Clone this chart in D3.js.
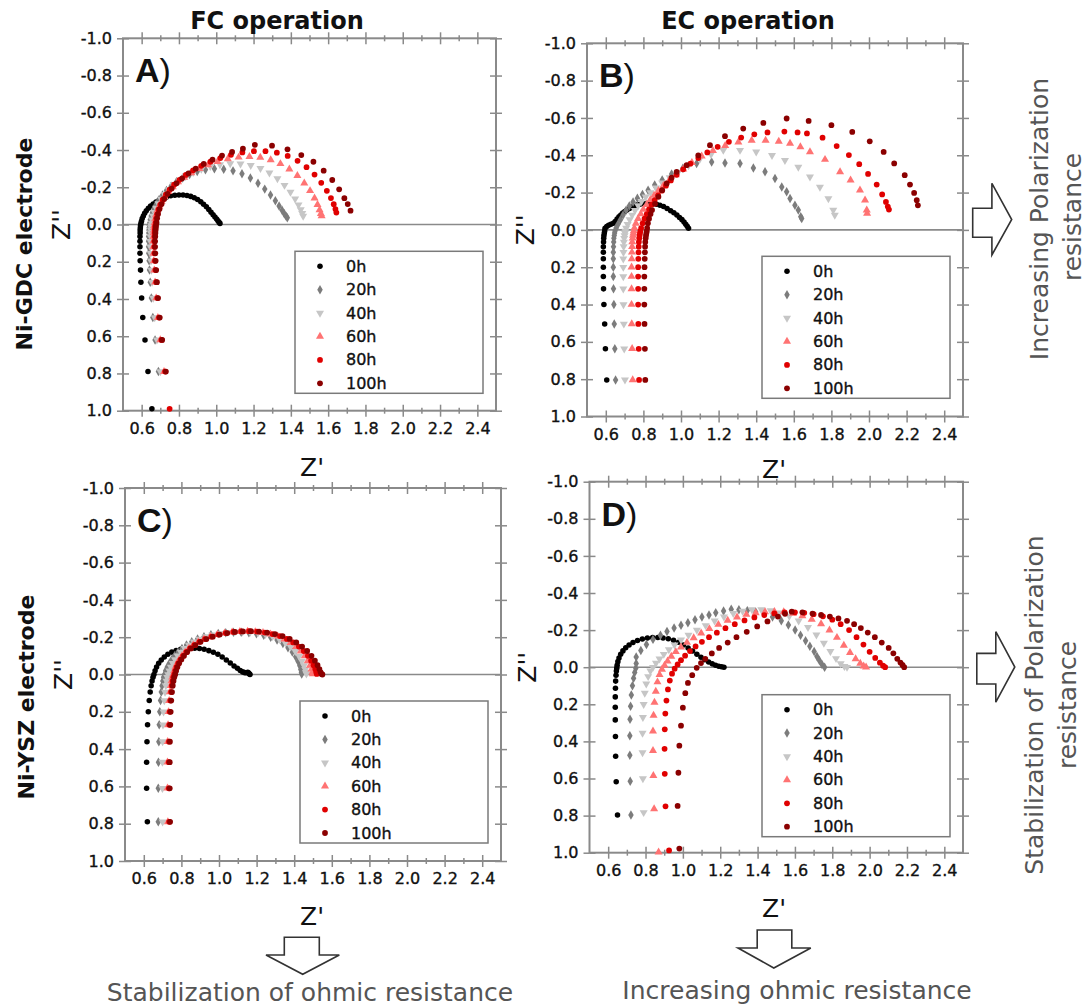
<!DOCTYPE html>
<html><head><meta charset="utf-8">
<script src="https://cdn.jsdelivr.net/npm/d3@7"></script>
<style>body{margin:0;background:#fff}svg{display:block}</style>
</head><body>
<svg id="chart" width="1087" height="1007"></svg>
<script>
// ---------------- DATA ----------------
const seriesLabels = ["0h","20h","40h","60h","80h","100h"];
const xTickValues = [0.6,0.8,1.0,1.2,1.4,1.6,1.8,2.0,2.2,2.4];
const xMinorValues = [0.7,0.9,1.1,1.3,1.5,1.7,1.9,2.1,2.3];
const yTickValues = [-1.0,-0.8,-0.6,-0.4,-0.2,0.0,0.2,0.4,0.6,0.8,1.0];
const columnTitles = ["FC operation","EC operation"];
const rowTitles = ["Ni-GDC electrode","Ni-YSZ electrode"];
const panelLetters = ["A","B","C","D"];

// Panel A : Ni-GDC, FC operation  [Z', Z'']
const A_0h = [[0.655,0.99],[0.634,0.79],[0.618,0.62],[0.606,0.5],[0.6,0.395],[0.596,0.31],[0.594,0.245],[0.592,0.195],[0.591,0.155],[0.591,0.12],[0.591,0.09],[0.591,0.065],[0.592,0.045],[0.592,0.03],[0.593,0.017],[0.594,0.006],
 [0.596,-0.005],[0.599,-0.018],[0.603,-0.032],[0.609,-0.046],[0.616,-0.06],[0.625,-0.074],[0.636,-0.087],[0.648,-0.099],[0.662,-0.11],[0.677,-0.121],[0.694,-0.131],[0.713,-0.14],[0.734,-0.148],[0.756,-0.154],[0.778,-0.157],[0.8,-0.158],[0.822,-0.158],[0.843,-0.156],[0.863,-0.151],[0.882,-0.144],[0.9,-0.134],[0.917,-0.122],[0.932,-0.109],[0.947,-0.095],[0.96,-0.08],[0.972,-0.066],[0.983,-0.052],[0.993,-0.04],[1.002,-0.029],[1.009,-0.02],[1.015,-0.012],[1.02,-0.006]];
const A_20h = [[0.69,0.79],[0.672,0.62],[0.66,0.5],[0.652,0.395],[0.646,0.31],[0.642,0.245],[0.64,0.195],[0.638,0.155],[0.637,0.12],[0.637,0.09],[0.637,0.065],[0.638,0.045],[0.639,0.03],[0.64,0.017],[0.641,0.006],
 [0.643,-0.008],[0.646,-0.025],[0.651,-0.045],[0.658,-0.065],[0.667,-0.087],[0.679,-0.11],[0.694,-0.134],[0.712,-0.158],[0.733,-0.182],[0.758,-0.206],[0.787,-0.229],[0.82,-0.25],[0.857,-0.269],[0.898,-0.284],[0.942,-0.294],[0.99,-0.299],[1.04,-0.297],[1.09,-0.288],[1.138,-0.272],[1.183,-0.25],[1.224,-0.222],[1.26,-0.19],[1.291,-0.158],[1.317,-0.127],[1.337,-0.099],[1.353,-0.076],[1.365,-0.058],[1.374,-0.045],[1.381,-0.036]];
const A_40h = [[0.7,0.79],[0.682,0.62],[0.67,0.5],[0.662,0.395],[0.656,0.31],[0.652,0.245],[0.65,0.195],[0.648,0.155],[0.647,0.12],[0.647,0.09],[0.648,0.065],[0.649,0.045],[0.65,0.03],[0.651,0.017],[0.652,0.006],
 [0.654,-0.008],[0.657,-0.025],[0.662,-0.045],[0.669,-0.066],[0.678,-0.088],[0.69,-0.112],[0.705,-0.137],[0.723,-0.162],[0.745,-0.187],[0.771,-0.212],[0.801,-0.236],[0.836,-0.259],[0.876,-0.28],[0.92,-0.298],[0.968,-0.312],[1.02,-0.322],[1.075,-0.327],[1.13,-0.326],[1.185,-0.318],[1.237,-0.302],[1.285,-0.278],[1.328,-0.247],[1.366,-0.211],[1.398,-0.174],[1.423,-0.138],[1.441,-0.106],[1.453,-0.08],[1.461,-0.06],[1.466,-0.045]];
const A_60h = [[0.72,0.79],[0.7,0.62],[0.687,0.5],[0.678,0.395],[0.672,0.31],[0.668,0.245],[0.665,0.195],[0.663,0.155],[0.662,0.12],[0.662,0.09],[0.663,0.065],[0.664,0.045],[0.665,0.03],[0.666,0.017],[0.667,0.006],
 [0.669,-0.01],[0.672,-0.03],[0.677,-0.052],[0.684,-0.075],[0.694,-0.099],[0.707,-0.124],[0.723,-0.15],[0.743,-0.176],[0.767,-0.202],[0.795,-0.228],[0.828,-0.253],[0.866,-0.277],[0.909,-0.3],[0.956,-0.32],[1.007,-0.338],[1.062,-0.352],[1.12,-0.361],[1.178,-0.364],[1.236,-0.36],[1.292,-0.347],[1.344,-0.326],[1.392,-0.297],[1.435,-0.262],[1.472,-0.222],[1.503,-0.181],[1.527,-0.141],[1.543,-0.106],[1.554,-0.078],[1.561,-0.058],[1.565,-0.046]];
const A_80h = [[0.75,0.99],[0.726,0.79],[0.706,0.62],[0.693,0.5],[0.684,0.395],[0.678,0.31],[0.674,0.245],[0.671,0.195],[0.669,0.155],[0.668,0.12],[0.668,0.09],[0.669,0.065],[0.67,0.045],[0.671,0.03],[0.672,0.017],[0.673,0.006],
 [0.675,-0.01],[0.678,-0.032],[0.683,-0.055],[0.69,-0.08],[0.7,-0.106],[0.713,-0.133],[0.73,-0.16],[0.75,-0.187],[0.774,-0.214],[0.803,-0.24],[0.837,-0.266],[0.876,-0.291],[0.92,-0.315],[0.969,-0.337],[1.022,-0.357],[1.079,-0.374],[1.14,-0.387],[1.202,-0.394],[1.264,-0.394],[1.325,-0.386],[1.383,-0.368],[1.436,-0.342],[1.484,-0.308],[1.527,-0.268],[1.563,-0.224],[1.593,-0.181],[1.615,-0.142],[1.63,-0.109],[1.639,-0.083],[1.644,-0.064]];
const A_100h = [[0.73,0.79],[0.71,0.62],[0.697,0.5],[0.688,0.395],[0.682,0.31],[0.678,0.245],[0.675,0.195],[0.673,0.155],[0.672,0.12],[0.672,0.09],[0.673,0.065],[0.674,0.045],[0.675,0.03],[0.676,0.017],[0.677,0.006],
 [0.68,-0.01],[0.683,-0.033],[0.688,-0.057],[0.696,-0.083],[0.707,-0.11],[0.721,-0.137],[0.739,-0.165],[0.761,-0.193],[0.787,-0.221],[0.817,-0.248],[0.851,-0.275],[0.89,-0.3],[0.933,-0.325],[0.98,-0.348],[1.031,-0.37],[1.085,-0.39],[1.143,-0.407],[1.207,-0.428],[1.299,-0.423],[1.382,-0.404],[1.456,-0.373],[1.521,-0.337],[1.576,-0.289],[1.622,-0.239],[1.659,-0.189],[1.687,-0.141],[1.705,-0.11],[1.72,-0.074]];

// Panel B : Ni-GDC, EC operation
const B_0h = [[0.605,0.804],[0.598,0.637],[0.594,0.504],[0.59,0.4],[0.588,0.316],[0.587,0.25],[0.587,0.2],[0.587,0.155],[0.587,0.12],[0.587,0.09],[0.588,0.065],[0.589,0.045],[0.59,0.03],[0.592,0.017],[0.594,0.006],
 [0.596,-0.009],[0.605,-0.018],[0.615,-0.025],[0.627,-0.03],[0.64,-0.036],[0.65,-0.045],[0.66,-0.058],[0.67,-0.07],[0.68,-0.08],[0.69,-0.09],[0.701,-0.099],[0.712,-0.107],[0.726,-0.115],[0.74,-0.122],[0.752,-0.128],[0.765,-0.134],[0.782,-0.138],[0.8,-0.14],[0.818,-0.142],[0.836,-0.143],[0.853,-0.141],[0.87,-0.138],[0.888,-0.132],[0.907,-0.125],[0.926,-0.115],[0.945,-0.103],[0.962,-0.092],[0.978,-0.08],[0.992,-0.067],[1.005,-0.055],[1.016,-0.042],[1.025,-0.03],[1.033,-0.019],[1.04,-0.009]];
const B_20h = [[0.652,0.804],[0.648,0.637],[0.645,0.504],[0.643,0.4],[0.641,0.316],[0.64,0.25],[0.64,0.2],[0.64,0.155],[0.64,0.12],[0.641,0.09],[0.642,0.065],[0.643,0.045],[0.645,0.03],[0.647,0.017],[0.649,0.006],
 [0.655,-0.01],[0.665,-0.03],[0.678,-0.055],[0.692,-0.08],[0.708,-0.105],[0.725,-0.128],[0.745,-0.15],[0.768,-0.17],[0.795,-0.19],[0.825,-0.213],[0.86,-0.24],[0.9,-0.268],[0.95,-0.3],[1.01,-0.33],[1.083,-0.356],[1.163,-0.364],[1.234,-0.359],[1.314,-0.356],[1.385,-0.332],[1.447,-0.311],[1.5,-0.275],[1.536,-0.23],[1.562,-0.204],[1.58,-0.168],[1.606,-0.132],[1.624,-0.106],[1.637,-0.07],[1.642,-0.061]];
const B_40h = [[0.702,0.804],[0.698,0.637],[0.696,0.504],[0.694,0.4],[0.693,0.316],[0.693,0.25],[0.693,0.2],[0.693,0.155],[0.694,0.12],[0.695,0.09],[0.696,0.065],[0.698,0.045],[0.7,0.03],[0.702,0.017],[0.704,0.006],
 [0.708,-0.01],[0.716,-0.03],[0.727,-0.055],[0.74,-0.08],[0.755,-0.105],[0.772,-0.13],[0.79,-0.153],[0.812,-0.177],[0.838,-0.2],[0.868,-0.225],[0.9,-0.252],[0.94,-0.28],[0.985,-0.31],[1.04,-0.345],[1.1,-0.38],[1.16,-0.405],[1.225,-0.427],[1.314,-0.427],[1.4,-0.418],[1.484,-0.4],[1.553,-0.373],[1.624,-0.337],[1.686,-0.284],[1.739,-0.23],[1.784,-0.168],[1.81,-0.106],[1.818,-0.079]];
const B_60h = [[0.743,0.804],[0.74,0.637],[0.738,0.504],[0.737,0.4],[0.737,0.316],[0.737,0.25],[0.737,0.2],[0.738,0.155],[0.739,0.12],[0.74,0.09],[0.741,0.065],[0.743,0.045],[0.745,0.03],[0.747,0.017],[0.749,0.006],
 [0.752,-0.01],[0.76,-0.035],[0.772,-0.06],[0.786,-0.085],[0.8,-0.11],[0.817,-0.135],[0.836,-0.16],[0.857,-0.185],[0.88,-0.21],[0.906,-0.237],[0.937,-0.265],[0.972,-0.295],[1.012,-0.325],[1.058,-0.36],[1.11,-0.395],[1.17,-0.425],[1.235,-0.452],[1.305,-0.47],[1.376,-0.48],[1.45,-0.48],[1.52,-0.474],[1.58,-0.463],[1.635,-0.445],[1.686,-0.418],[1.766,-0.377],[1.846,-0.311],[1.902,-0.266],[1.952,-0.213],[1.979,-0.159],[1.988,-0.106],[1.99,-0.088]];
const B_80h = [[0.777,0.804],[0.775,0.637],[0.773,0.504],[0.772,0.4],[0.772,0.316],[0.772,0.25],[0.772,0.2],[0.773,0.155],[0.774,0.12],[0.775,0.09],[0.776,0.065],[0.778,0.045],[0.78,0.03],[0.782,0.017],[0.784,0.006],
 [0.788,-0.01],[0.796,-0.035],[0.806,-0.06],[0.818,-0.085],[0.83,-0.11],[0.844,-0.135],[0.86,-0.16],[0.878,-0.185],[0.898,-0.21],[0.92,-0.237],[0.946,-0.265],[0.977,-0.295],[1.012,-0.325],[1.05,-0.355],[1.092,-0.385],[1.14,-0.415],[1.195,-0.445],[1.255,-0.472],[1.32,-0.495],[1.39,-0.512],[1.46,-0.522],[1.55,-0.527],[1.62,-0.522],[1.67,-0.517],[1.753,-0.494],[1.828,-0.449],[1.893,-0.401],[1.948,-0.352],[1.995,-0.3],[2.041,-0.243],[2.07,-0.19],[2.09,-0.15],[2.1,-0.125],[2.106,-0.109]];
const B_100h = [[0.81,0.804],[0.808,0.637],[0.806,0.504],[0.805,0.4],[0.805,0.316],[0.805,0.25],[0.806,0.2],[0.807,0.155],[0.808,0.12],[0.809,0.09],[0.81,0.065],[0.812,0.045],[0.814,0.03],[0.816,0.017],[0.818,0.006],
 [0.82,-0.01],[0.824,-0.035],[0.83,-0.06],[0.838,-0.085],[0.846,-0.106],[0.862,-0.14],[0.88,-0.177],[0.9,-0.213],[0.924,-0.249],[0.95,-0.28],[0.977,-0.311],[1.03,-0.347],[1.092,-0.4],[1.154,-0.454],[1.234,-0.502],[1.331,-0.543],[1.438,-0.573],[1.562,-0.597],[1.679,-0.584],[1.8,-0.561],[1.911,-0.525],[2.004,-0.475],[2.078,-0.418],[2.134,-0.356],[2.19,-0.293],[2.218,-0.243],[2.24,-0.198],[2.254,-0.159],[2.26,-0.132]];

// Panel C : Ni-YSZ, FC operation
const C_0h = [[0.619,0.79],[0.615,0.61],[0.615,0.47],[0.617,0.36],[0.62,0.27],[0.624,0.2],[0.629,0.14],[0.634,0.094],[0.639,0.06],[0.644,0.035],[0.649,0.015],
 [0.654,0.0],[0.66,-0.02],[0.668,-0.04],[0.679,-0.06],[0.693,-0.078],[0.709,-0.094],[0.728,-0.108],[0.749,-0.12],[0.772,-0.129],[0.796,-0.135],[0.821,-0.139],[0.846,-0.141],[0.871,-0.141],[0.896,-0.139],[0.921,-0.135],[0.946,-0.128],[0.97,-0.119],[0.994,-0.108],[1.017,-0.094],[1.039,-0.078],[1.06,-0.062],[1.08,-0.046],[1.098,-0.033],[1.113,-0.022],[1.126,-0.014],[1.137,-0.01],[1.146,-0.009],[1.153,-0.012],[1.158,-0.008],[1.162,-0.003],[1.165,0.0]];
const C_20h = [[0.677,0.79],[0.677,0.61],[0.678,0.47],[0.68,0.36],[0.682,0.27],[0.685,0.2],[0.689,0.14],[0.693,0.094],[0.697,0.06],[0.701,0.035],[0.705,0.015],
 [0.71,0.0],[0.716,-0.02],[0.725,-0.04],[0.736,-0.06],[0.749,-0.08],[0.764,-0.1],[0.782,-0.12],[0.803,-0.14],[0.827,-0.158],[0.855,-0.175],[0.886,-0.19],[0.92,-0.203],[0.957,-0.213],[0.996,-0.22],[1.036,-0.224],[1.077,-0.226],[1.118,-0.226],[1.159,-0.224],[1.199,-0.219],[1.238,-0.211],[1.275,-0.2],[1.309,-0.185],[1.34,-0.166],[1.367,-0.144],[1.39,-0.12],[1.408,-0.095],[1.421,-0.07],[1.43,-0.047],[1.435,-0.027],[1.438,-0.012],[1.44,-0.003]];
const C_40h = [[0.7,0.79],[0.699,0.61],[0.699,0.47],[0.7,0.36],[0.702,0.27],[0.705,0.2],[0.709,0.14],[0.713,0.094],[0.717,0.06],[0.721,0.035],[0.725,0.015],
 [0.73,0.0],[0.736,-0.02],[0.744,-0.04],[0.754,-0.06],[0.766,-0.08],[0.78,-0.1],[0.797,-0.12],[0.817,-0.14],[0.84,-0.158],[0.866,-0.175],[0.896,-0.19],[0.929,-0.203],[0.965,-0.213],[1.003,-0.221],[1.043,-0.226],[1.084,-0.228],[1.125,-0.229],[1.166,-0.227],[1.207,-0.223],[1.247,-0.215],[1.285,-0.204],[1.321,-0.189],[1.353,-0.17],[1.381,-0.148],[1.406,-0.124],[1.426,-0.098],[1.441,-0.072],[1.452,-0.048],[1.459,-0.028],[1.463,-0.012],[1.465,-0.003]];
const C_60h = [[0.728,0.79],[0.726,0.61],[0.726,0.47],[0.727,0.36],[0.729,0.27],[0.732,0.2],[0.735,0.14],[0.739,0.094],[0.743,0.06],[0.747,0.035],[0.751,0.015],
 [0.756,0.0],[0.761,-0.02],[0.768,-0.04],[0.777,-0.06],[0.789,-0.08],[0.803,-0.1],[0.82,-0.12],[0.84,-0.14],[0.863,-0.158],[0.89,-0.175],[0.92,-0.19],[0.954,-0.203],[0.991,-0.214],[1.03,-0.222],[1.07,-0.227],[1.111,-0.23],[1.152,-0.231],[1.193,-0.229],[1.234,-0.224],[1.274,-0.216],[1.312,-0.205],[1.348,-0.19],[1.381,-0.171],[1.41,-0.149],[1.435,-0.125],[1.456,-0.099],[1.472,-0.073],[1.484,-0.049],[1.492,-0.028],[1.497,-0.012],[1.499,-0.003]];
const C_80h = [[0.735,0.79],[0.733,0.61],[0.733,0.47],[0.734,0.36],[0.736,0.27],[0.738,0.2],[0.741,0.14],[0.745,0.094],[0.749,0.06],[0.753,0.035],[0.757,0.015],
 [0.762,0.0],[0.767,-0.02],[0.774,-0.04],[0.783,-0.06],[0.795,-0.08],[0.809,-0.1],[0.826,-0.12],[0.846,-0.14],[0.869,-0.158],[0.896,-0.175],[0.926,-0.19],[0.96,-0.203],[0.997,-0.214],[1.036,-0.222],[1.077,-0.228],[1.118,-0.231],[1.16,-0.232],[1.202,-0.23],[1.244,-0.225],[1.285,-0.217],[1.324,-0.206],[1.361,-0.191],[1.395,-0.172],[1.425,-0.15],[1.451,-0.126],[1.473,-0.1],[1.49,-0.074],[1.503,-0.05],[1.512,-0.029],[1.517,-0.013],[1.52,-0.003]];
const C_100h = [[0.74,0.79],[0.738,0.61],[0.738,0.47],[0.739,0.36],[0.741,0.27],[0.743,0.2],[0.746,0.14],[0.75,0.094],[0.754,0.06],[0.758,0.035],[0.762,0.015],
 [0.767,0.0],[0.772,-0.02],[0.779,-0.04],[0.788,-0.06],[0.8,-0.08],[0.814,-0.1],[0.831,-0.12],[0.851,-0.14],[0.875,-0.158],[0.902,-0.175],[0.933,-0.19],[0.967,-0.203],[1.004,-0.214],[1.044,-0.222],[1.085,-0.228],[1.127,-0.231],[1.17,-0.232],[1.213,-0.23],[1.256,-0.225],[1.298,-0.217],[1.338,-0.206],[1.376,-0.191],[1.411,-0.172],[1.442,-0.15],[1.469,-0.126],[1.492,-0.1],[1.51,-0.074],[1.524,-0.05],[1.534,-0.029],[1.54,-0.013],[1.545,-0.003],[1.55,0.0]];

// Panel D : Ni-YSZ, EC operation
const D_0h = [[0.65,0.797],[0.643,0.618],[0.64,0.48],[0.639,0.373],[0.638,0.284],[0.638,0.216],[0.638,0.16],[0.639,0.114],[0.64,0.075],[0.642,0.043],[0.644,0.02],[0.646,0.005],
 [0.648,-0.01],[0.652,-0.03],[0.658,-0.05],[0.667,-0.07],[0.679,-0.088],[0.694,-0.105],[0.712,-0.12],[0.733,-0.133],[0.757,-0.144],[0.783,-0.152],[0.81,-0.157],[0.838,-0.16],[0.866,-0.16],[0.894,-0.158],[0.922,-0.153],[0.95,-0.145],[0.977,-0.134],[1.003,-0.12],[1.028,-0.104],[1.052,-0.087],[1.075,-0.07],[1.097,-0.054],[1.118,-0.04],[1.138,-0.028],[1.157,-0.018],[1.175,-0.01],[1.192,-0.005],[1.207,-0.002],[1.22,0.0]];
const D_20h = [[0.722,0.797],[0.718,0.615],[0.716,0.475],[0.716,0.37],[0.717,0.28],[0.72,0.21],[0.724,0.15],[0.73,0.1],[0.736,0.06],[0.742,0.028],[0.748,0.005],
 [0.75,-0.02],[0.75,-0.055],[0.775,-0.09],[0.805,-0.123],[0.84,-0.15],[0.88,-0.172],[0.915,-0.192],[0.953,-0.211],[0.99,-0.226],[1.027,-0.24],[1.065,-0.256],[1.102,-0.27],[1.14,-0.282],[1.176,-0.293],[1.218,-0.303],[1.259,-0.312],[1.3,-0.31],[1.345,-0.305],[1.39,-0.297],[1.435,-0.289],[1.48,-0.271],[1.527,-0.25],[1.565,-0.227],[1.601,-0.201],[1.63,-0.172],[1.657,-0.143],[1.68,-0.113],[1.703,-0.084],[1.718,-0.058],[1.731,-0.036],[1.745,-0.015],[1.759,0.0]];
const D_40h = [[0.79,0.783],[0.786,0.6],[0.784,0.46],[0.784,0.355],[0.786,0.27],[0.79,0.2],[0.796,0.14],[0.804,0.09],[0.814,0.05],[0.826,0.02],[0.84,0.0],
 [0.856,-0.022],[0.875,-0.045],[0.898,-0.07],[0.925,-0.095],[0.955,-0.12],[0.99,-0.147],[1.03,-0.173],[1.075,-0.2],[1.122,-0.225],[1.17,-0.25],[1.22,-0.272],[1.27,-0.29],[1.32,-0.303],[1.37,-0.31],[1.42,-0.31],[1.47,-0.305],[1.52,-0.293],[1.57,-0.275],[1.62,-0.25],[1.67,-0.215],[1.715,-0.175],[1.755,-0.13],[1.79,-0.085],[1.82,-0.047],[1.845,-0.02],[1.865,-0.005],[1.879,0.0]];
const D_60h = [[0.87,0.997],[0.846,0.764],[0.842,0.585],[0.84,0.45],[0.84,0.345],[0.843,0.26],[0.848,0.19],[0.855,0.13],[0.864,0.08],[0.875,0.04],[0.888,0.012],[0.902,-0.01],
 [0.918,-0.033],[0.938,-0.058],[0.962,-0.083],[0.99,-0.108],[1.022,-0.133],[1.058,-0.158],[1.098,-0.183],[1.142,-0.207],[1.19,-0.23],[1.24,-0.252],[1.29,-0.27],[1.34,-0.284],[1.39,-0.293],[1.44,-0.298],[1.49,-0.3],[1.54,-0.298],[1.59,-0.29],[1.64,-0.277],[1.69,-0.258],[1.74,-0.233],[1.785,-0.2],[1.825,-0.16],[1.862,-0.118],[1.895,-0.078],[1.925,-0.045],[1.95,-0.02],[1.968,-0.006],[1.981,0.0]];
const D_80h = [[0.926,0.988],[0.907,0.75],[0.903,0.575],[0.902,0.44],[0.903,0.335],[0.906,0.25],[0.912,0.18],[0.92,0.12],[0.93,0.072],[0.942,0.035],[0.956,0.008],[0.972,-0.015],
 [0.99,-0.038],[1.012,-0.062],[1.038,-0.087],[1.068,-0.112],[1.102,-0.137],[1.14,-0.162],[1.182,-0.186],[1.228,-0.21],[1.278,-0.232],[1.33,-0.252],[1.383,-0.268],[1.436,-0.281],[1.49,-0.29],[1.545,-0.295],[1.6,-0.296],[1.65,-0.293],[1.7,-0.286],[1.75,-0.274],[1.8,-0.256],[1.845,-0.232],[1.89,-0.2],[1.93,-0.162],[1.967,-0.122],[2.0,-0.083],[2.03,-0.05],[2.055,-0.024],[2.072,-0.008],[2.083,0.0]];
const D_100h = [[0.981,0.978],[0.972,0.748],[0.976,0.569],[0.981,0.423],[0.99,0.315],[1.0,0.218],[1.013,0.14],[1.027,0.085],[1.05,0.043],[1.074,0.003],
 [1.097,-0.022],[1.12,-0.045],[1.155,-0.074],[1.194,-0.104],[1.24,-0.133],[1.287,-0.162],[1.342,-0.191],[1.398,-0.22],[1.453,-0.247],[1.509,-0.273],[1.547,-0.288],[1.583,-0.299],[1.64,-0.296],[1.694,-0.289],[1.74,-0.282],[1.787,-0.273],[1.833,-0.263],[1.879,-0.25],[1.917,-0.232],[1.953,-0.211],[1.99,-0.187],[2.028,-0.162],[2.065,-0.133],[2.102,-0.104],[2.127,-0.075],[2.148,-0.045],[2.165,-0.025],[2.176,-0.012],[2.185,0.0]];

// ---------------- STYLE / LAYOUT ----------------
const FONT = "'DejaVu Sans', sans-serif";
const AXIS_GRAY = "#8a8a8a";
const LABEL_INK = "#111";
const seriesColors = ["#000000","#7c7c7c","#c6c6c6","#ff7373","#e00000","#8b0000"];
const seriesShapes = ["circle","diamond","down","up","circle","circle"];
const seriesSizes = [24,26,28,28,26,26];

const panels = [
  {letter:panelLetters[0], left:123, right:496, top:38.3, bottom:410.7, series:[A_0h,A_20h,A_40h,A_60h,A_80h,A_100h], zx:312, zy:476},
  {letter:panelLetters[1], left:587, right:963, top:43.3, bottom:416.5, series:[B_0h,B_20h,B_40h,B_60h,B_80h,B_100h], zx:774, zy:478},
  {letter:panelLetters[2], left:125, right:501, top:488, bottom:861, series:[C_0h,C_20h,C_40h,C_60h,C_80h,C_100h], zx:312, zy:925},
  {letter:panelLetters[3], left:589.5, right:963, top:481.7, bottom:852.7, series:[D_0h,D_20h,D_40h,D_60h,D_80h,D_100h], zx:774, zy:917}
];

const svg = d3.select("#chart");

function symbolPath(i){
  const s = seriesShapes[i];
  const t = (s === "circle") ? d3.symbolCircle : (s === "diamond") ? d3.symbolDiamond : d3.symbolTriangle;
  return d3.symbol(t, seriesSizes[i])();
}
function symbolRot(i){ return seriesShapes[i] === "down" ? " rotate(180)" : ""; }

function heavyText(sel){
  sel.attr("font-family", FONT).attr("font-size", 16).attr("fill", LABEL_INK)
     .attr("stroke", LABEL_INK).attr("stroke-width", 0.35);
}
function styleAxis(sel){
  sel.select(".domain").remove();
  sel.selectAll(".tick line").attr("stroke", AXIS_GRAY).attr("stroke-width", 1.5);
  sel.selectAll(".tick text").call(heavyText);
}

function drawPanel(p){
  const g = svg.append("g");
  const x = d3.scaleLinear().domain([0.5, 2.5]).range([p.left, p.right]);
  const y = d3.scaleLinear().domain([-1, 1]).range([p.top, p.bottom]);
  const fmt = d => d.toFixed(1);

  // zero line
  g.append("line").attr("x1", p.left).attr("x2", p.right).attr("y1", y(0)).attr("y2", y(0))
    .attr("stroke", AXIS_GRAY).attr("stroke-width", 1.6);

  // bottom axis (labels) + inward ticks
  g.append("g").attr("transform", `translate(0,${p.bottom})`)
    .call(d3.axisBottom(x).tickValues(xTickValues).tickSize(6).tickPadding(6).tickFormat(fmt)).call(styleAxis);
  g.append("g").attr("transform", `translate(0,${p.bottom})`)
    .call(d3.axisTop(x).tickValues(xTickValues).tickSize(6).tickFormat("")).call(styleAxis);
  g.append("g").attr("transform", `translate(0,${p.bottom})`)
    .call(d3.axisBottom(x).tickValues(xMinorValues).tickSize(3).tickFormat("")).call(styleAxis);
  g.append("g").attr("transform", `translate(0,${p.bottom})`)
    .call(d3.axisTop(x).tickValues(xMinorValues).tickSize(3).tickFormat("")).call(styleAxis);
  // top axis (no labels)
  [[xTickValues,6],[xMinorValues,3]].forEach(([vals,sz]) => {
    g.append("g").attr("transform", `translate(0,${p.top})`)
      .call(d3.axisTop(x).tickValues(vals).tickSize(sz).tickFormat("")).call(styleAxis);
    g.append("g").attr("transform", `translate(0,${p.top})`)
      .call(d3.axisBottom(x).tickValues(vals).tickSize(sz).tickFormat("")).call(styleAxis);
  });
  // left axis (labels)
  g.append("g").attr("transform", `translate(${p.left},0)`)
    .call(d3.axisLeft(y).tickValues(yTickValues).tickSize(6).tickPadding(5).tickFormat(fmt)).call(styleAxis);
  g.append("g").attr("transform", `translate(${p.left},0)`)
    .call(d3.axisRight(y).tickValues(yTickValues).tickSize(6).tickFormat("")).call(styleAxis);
  // right axis ticks
  g.append("g").attr("transform", `translate(${p.right},0)`)
    .call(d3.axisRight(y).tickValues(yTickValues).tickSize(6).tickFormat("")).call(styleAxis);
  g.append("g").attr("transform", `translate(${p.right},0)`)
    .call(d3.axisLeft(y).tickValues(yTickValues).tickSize(6).tickFormat("")).call(styleAxis);

  // frame
  g.append("rect").attr("x", p.left).attr("y", p.top).attr("width", p.right - p.left).attr("height", p.bottom - p.top)
    .attr("fill", "none").attr("stroke", AXIS_GRAY).attr("stroke-width", 2);

  // data
  p.series.forEach((pts, i) => {
    g.append("g").selectAll("path").data(pts).join("path")
      .attr("d", symbolPath(i))
      .attr("transform", d => `translate(${x(d[0])},${y(d[1])})` + symbolRot(i))
      .attr("fill", seriesColors[i]);
  });

  // legend
  const bw = 188, bh = 142;
  const bx = p.right - 13 - bw, by = p.top + 213;
  const lg = g.append("g");
  lg.append("rect").attr("x", bx).attr("y", by).attr("width", bw).attr("height", bh)
    .attr("fill", "#fff").attr("stroke", "#7a7a7a").attr("stroke-width", 1.5);
  seriesLabels.forEach((lab, i) => {
    const ly = by + 15 + i * 23.4;
    lg.append("path").attr("d", symbolPath(i))
      .attr("transform", `translate(${bx + 25},${ly})` + symbolRot(i)).attr("fill", seriesColors[i]);
    lg.append("text").attr("x", bx + 51).attr("y", ly).attr("dominant-baseline", "central")
      .call(heavyText).text(lab);
  });

  // panel letter
  const t = g.append("text").attr("x", p.left + 12).attr("y", p.top + 44)
    .attr("font-family", "'Liberation Sans', Arial, sans-serif").attr("font-size", 34).attr("fill", "#111");
  t.append("tspan").attr("font-weight", "bold").text(p.letter);
  t.append("tspan").text(")");

  // axis titles
  g.append("text").attr("x", p.zx).attr("y", p.zy).attr("text-anchor", "middle")
    .attr("font-family", FONT).attr("font-size", 25).attr("fill", "#111").text("Z'");
  g.append("text").attr("transform", `translate(${p.left - 62},${y(0)}) rotate(-90)`)
    .attr("text-anchor", "middle").attr("dominant-baseline", "central")
    .attr("font-family", FONT).attr("font-size", 25).attr("fill", "#111").text("Z''");
}

panels.forEach(drawPanel);

// column titles
[[277, columnTitles[0]], [748, columnTitles[1]]].forEach(([cx, txt]) => {
  svg.append("text").attr("x", cx).attr("y", 29).attr("text-anchor", "middle")
    .attr("font-family", FONT).attr("font-weight", "bold").attr("font-size", 24).attr("fill", "#111").text(txt);
});
// row titles
[[24, 244, rowTitles[0]], [26, 697, rowTitles[1]]].forEach(([cx, cy, txt]) => {
  svg.append("text").attr("transform", `translate(${cx},${cy}) rotate(-90)`)
    .attr("text-anchor", "middle").attr("dominant-baseline", "central")
    .attr("font-family", FONT).attr("font-weight", "bold").attr("font-size", 22).attr("fill", "#111").text(txt);
});

// annotation arrows
const arrowStyle = sel => sel.attr("fill", "#fff").attr("stroke", "#333").attr("stroke-width", 1.6).attr("stroke-linejoin", "miter");
svg.append("polygon").attr("points", "972.7,208.3 991.9,208.3 991.9,183.3 1011.7,219.5 991.9,255 991.9,237.3 972.7,237.3").call(arrowStyle);
svg.append("polygon").attr("points", "976.8,653.4 995.8,653.4 995.8,631.7 1014.8,667 995.8,702.2 995.8,684 976.8,684").call(arrowStyle);
svg.append("polygon").attr("points", "284.3,937.3 319.3,937.3 319.3,955 339.3,955 302.7,974.3 266,955 284.3,955").call(arrowStyle);
svg.append("polygon").attr("points", "757.2,930 791.8,930 791.8,948 810.8,948 773.8,968 738,948 757.2,948").call(arrowStyle);

// annotation texts
const annoColor = "#555";
[[1039, 219, "Increasing Polarization"], [1072, 217, "resistance"],
 [1034, 705, "Stabilization of Polarization"], [1067, 705, "resistance"]].forEach(([cx, cy, txt]) => {
  svg.append("text").attr("transform", `translate(${cx},${cy}) rotate(-90)`)
    .attr("text-anchor", "middle").attr("dominant-baseline", "central")
    .attr("font-family", FONT).attr("font-size", 25).attr("fill", annoColor).text(txt);
});
[[310, 1001, "Stabilization of ohmic resistance"], [797, 999, "Increasing ohmic resistance"]].forEach(([cx, by, txt]) => {
  svg.append("text").attr("x", cx).attr("y", by).attr("text-anchor", "middle")
    .attr("font-family", FONT).attr("font-size", 25).attr("fill", annoColor).text(txt);
});
</script>
</body></html>
